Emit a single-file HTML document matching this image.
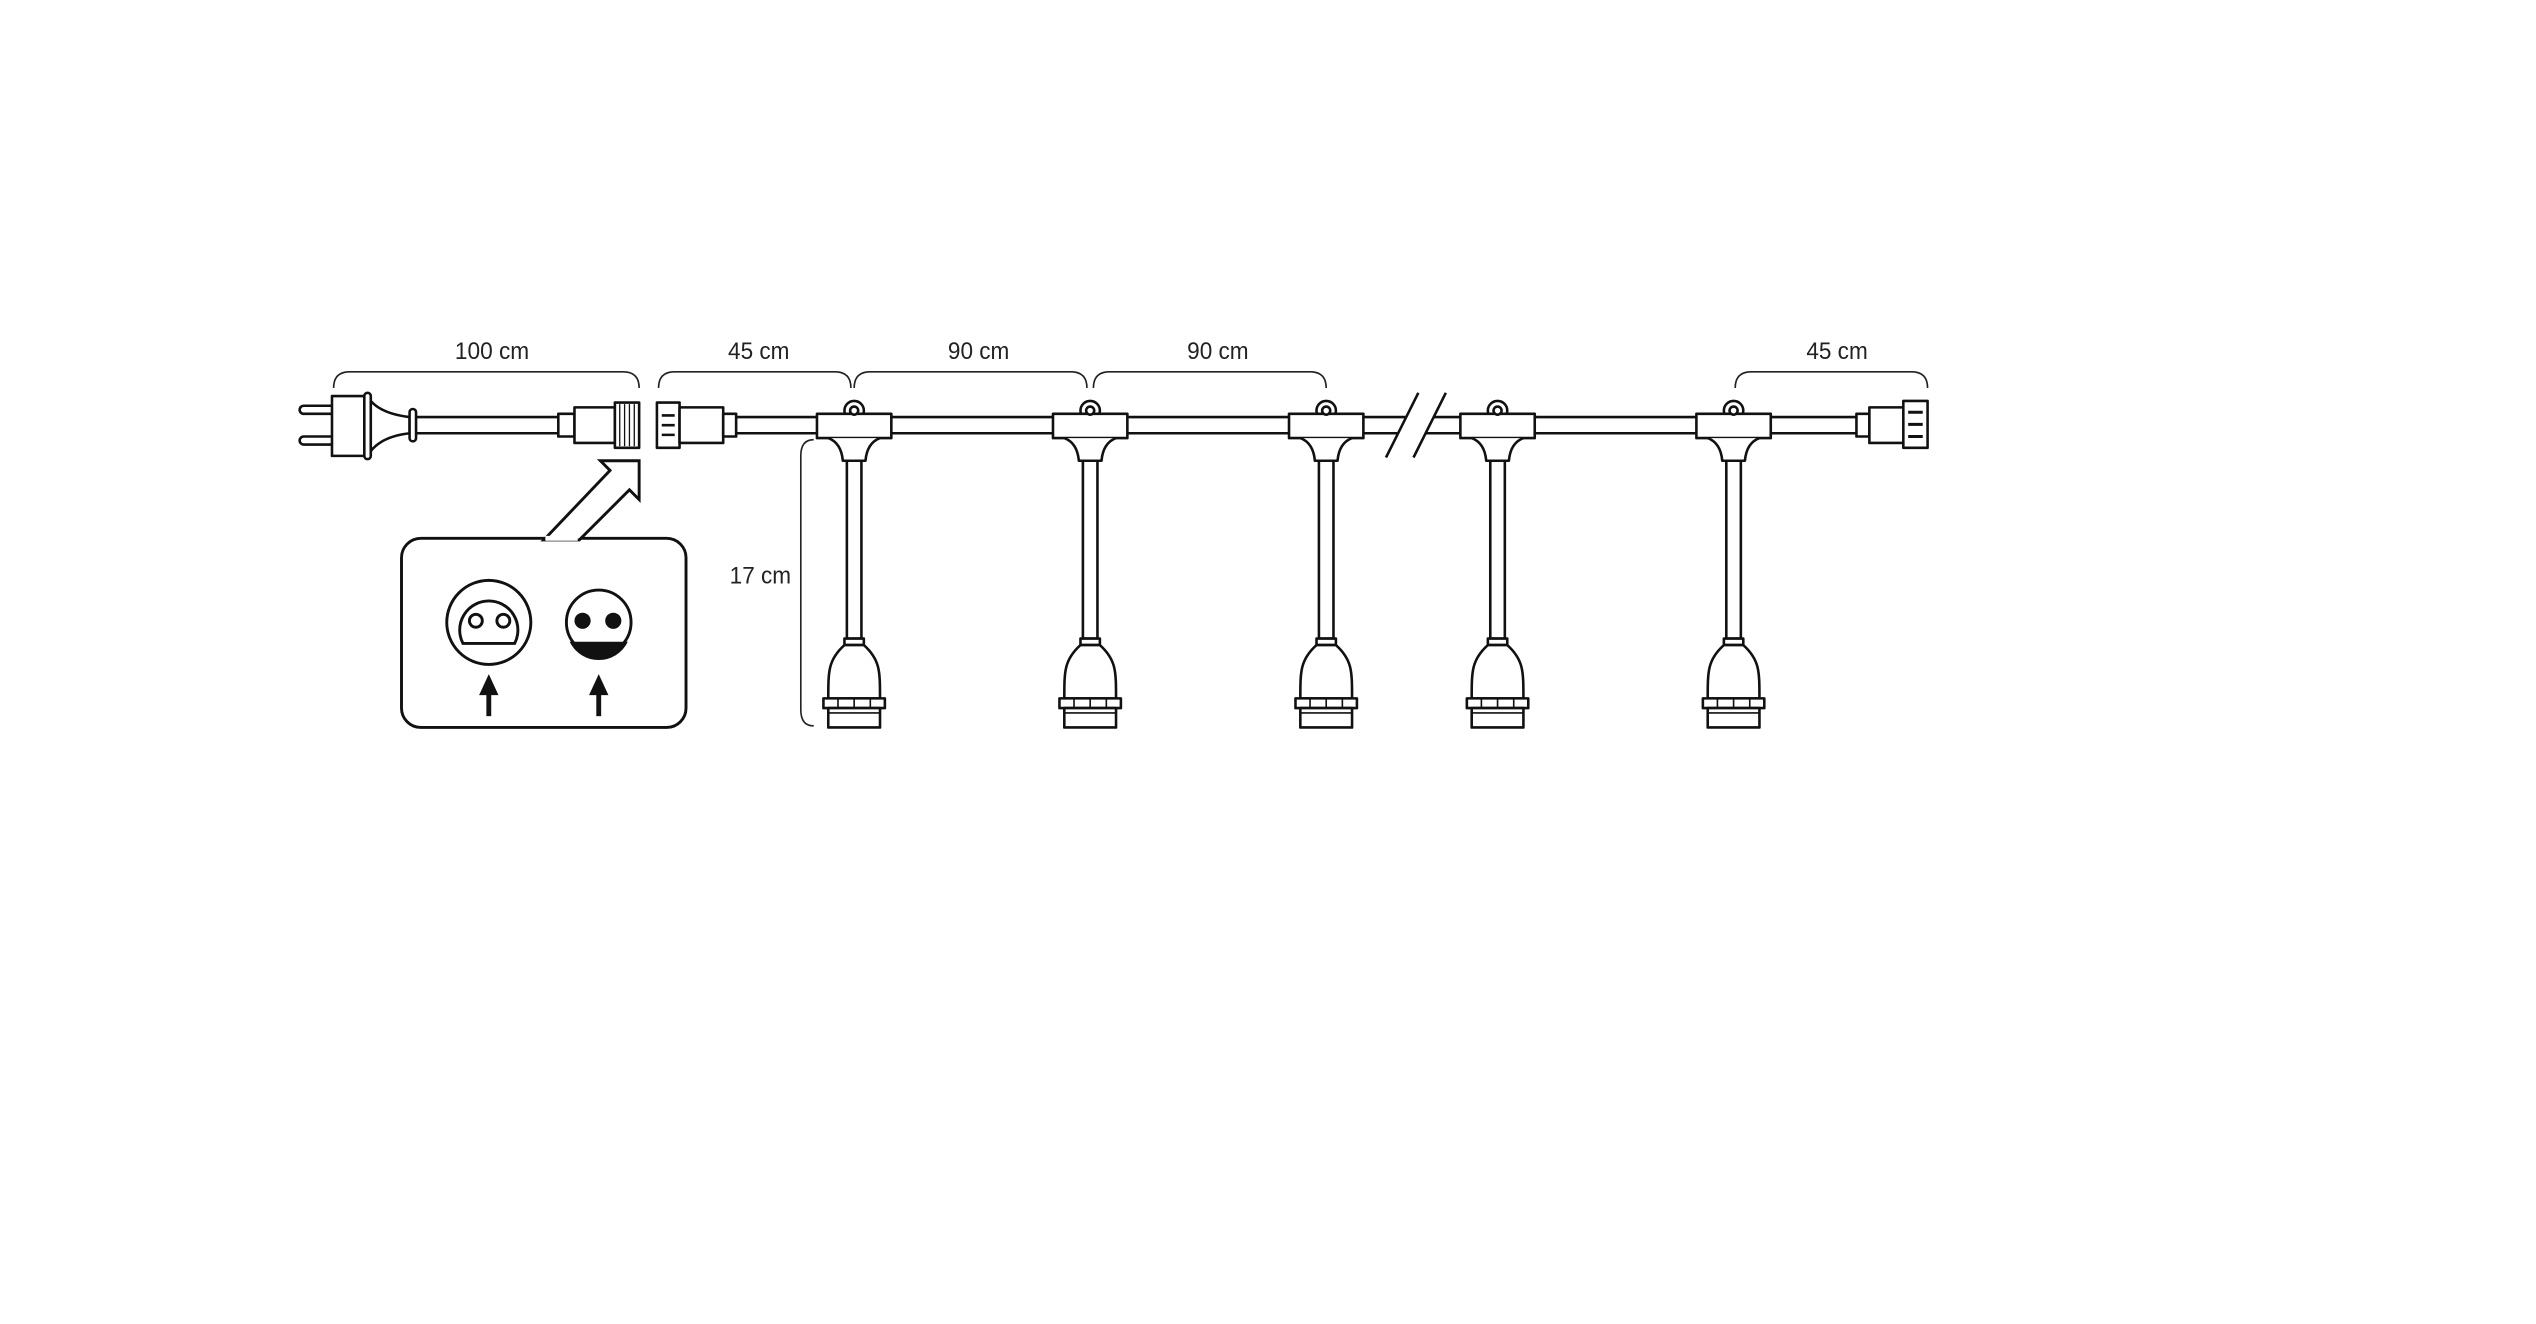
<!DOCTYPE html>
<html><head><meta charset="utf-8"><style>
html,body{margin:0;padding:0;background:#fff;}
svg{display:block}
text{font-family:"Liberation Sans Narrow","Liberation Sans",sans-serif;font-size:15px;fill:#222}
</style></head><body>
<svg width="2536" height="1324" viewBox="0 0 1568 819" xmlns="http://www.w3.org/2000/svg">
<rect width="1568" height="819" fill="#fff"/>
<g fill="none" stroke="#222" stroke-width="1">
<path d="M206,240 Q206,230 216,230 H385 Q395,230 395,240"/>
<path d="M407,240 Q407,230 417,230 H516 Q526,230 526,240"/>
<path d="M528,240 Q528,230 538,230 H662 Q672,230 672,240"/>
<path d="M676,240 Q676,230 686,230 H810 Q820,230 820,240"/>
<path d="M1073,240 Q1073,230 1083,230 H1182 Q1192,230 1192,240"/>
<path d="M503,272 Q495,272 495,282 V439 Q495,449 503,449"/>
</g>
<g font-size="15">
<text x="304" y="222" text-anchor="middle" textLength="46" lengthAdjust="spacingAndGlyphs">100 cm</text>
<text x="469" y="222" text-anchor="middle" textLength="38" lengthAdjust="spacingAndGlyphs">45 cm</text>
<text x="605" y="222" text-anchor="middle" textLength="38" lengthAdjust="spacingAndGlyphs">90 cm</text>
<text x="753" y="222" text-anchor="middle" textLength="38" lengthAdjust="spacingAndGlyphs">90 cm</text>
<text x="1136" y="222" text-anchor="middle" textLength="38" lengthAdjust="spacingAndGlyphs">45 cm</text>
<text x="470" y="361" text-anchor="middle" textLength="38" lengthAdjust="spacingAndGlyphs">17 cm</text>
</g>
<g fill="#fff" stroke="#111" stroke-width="1.6" stroke-linejoin="round">
<!-- cables -->
<rect x="250" y="258" width="100" height="10"/>
<rect x="450" y="258" width="700" height="10"/>
<!-- plug -->
<rect x="185" y="251" width="22" height="5" rx="2.5"/>
<rect x="185" y="270" width="22" height="5" rx="2.5"/>
<rect x="205" y="245" width="20" height="37"/>
<rect x="225" y="243" width="4" height="41" rx="2"/>
<path d="M229,248 Q236,256 253,258 V268 Q236,270 229,279 Z"/>
<rect x="253" y="253" width="4" height="20" rx="2"/>
<rect x="345" y="256" width="10" height="14"/>
<rect x="355" y="252" width="25" height="22"/>
<rect x="380" y="249" width="15" height="28"/>
<path d="M383,250 V276 M386,250 V276 M389,250 V276 M392,250 V276" stroke-width="0.8"/>
<!-- female connector -->
<rect x="406" y="249" width="14" height="28"/>
<path d="M409,257 H417 M409,263 H417 M409,269 H417" stroke-width="1.6"/>
<rect x="420" y="252" width="27" height="22"/>
<rect x="447" y="256" width="8" height="14"/>
<!-- end connector -->
<rect x="1148" y="256" width="8" height="14"/>
<rect x="1156" y="252" width="22" height="22"/>
<rect x="1177" y="248" width="15" height="29"/>
<path d="M1180,255 H1189 M1180,262.5 H1189 M1180,270 H1189" stroke-width="1.8"/>
</g>
<!-- break -->
<polygon points="857,283 877,243 894,243 874,283" fill="#fff"/>
<g stroke="#111" stroke-width="1.6"><line x1="857" y1="283" x2="877" y2="243"/><line x1="874" y1="283" x2="894" y2="243"/></g>
<g id="tees" fill="#fff" stroke="#111" stroke-width="1.6" stroke-linejoin="round">
<g transform="translate(528,0)">
<circle cx="0" cy="254" r="6"/>
<rect x="-23" y="256" width="46" height="15"/>
<path d="M-16,271 Q-8,274 -7,285 H7 Q8,274 16,271"/>
<rect x="-4.5" y="285" width="9" height="110"/>
<rect x="-6" y="395" width="12" height="4"/>
<path d="M-6,399 C-16,408 -16,415 -16,432 H16 C16,415 16,408 6,399 Z"/>
<rect x="-19" y="432" width="38" height="6"/>
<path d="M-10,432 V438 M0,432 V438 M10,432 V438" stroke-width="1"/>
<path d="M-16,438 H16 V450 H-16 Z"/>
<circle cx="0" cy="254" r="2.5"/>
<line x1="-16" y1="441" x2="16" y2="441" stroke-width="1"/>
</g>
</g>
<use href="#tees" transform="translate(146,0)"/>
<use href="#tees" transform="translate(292,0)"/>
<use href="#tees" transform="translate(398,0)"/>
<use href="#tees" transform="translate(544,0)"/>
<!-- inset -->
<g stroke="#111" stroke-width="1.8" fill="#fff" stroke-linejoin="miter">
<rect x="248" y="333" width="176" height="117" rx="12"/>
<polygon points="336,334 377,291 371,285 395,285 395,309 389,303 358,334"/>
<line x1="337" y1="333" x2="357" y2="333" stroke="#fff" stroke-width="3"/>
<circle cx="302" cy="385" r="26"/>
<path d="M286,398 A18,18 0 1 1 318,398 Z"/>
<circle cx="294" cy="384" r="4"/>
<circle cx="311" cy="384" r="4"/>
<circle cx="370" cy="385" r="20"/>
</g>
<g fill="#111">
<path d="M352,397 H388 A20,20 0 0 1 352,397 Z"/>
<circle cx="360" cy="384" r="5"/>
<circle cx="379" cy="384" r="5"/>
<rect x="300.5" y="428" width="3" height="15"/>
<polygon points="296,430 302,417 308,430"/>
<rect x="368.5" y="428" width="3" height="15"/>
<polygon points="364,430 370,417 376,430"/>
</g>
</svg>
</body></html>
